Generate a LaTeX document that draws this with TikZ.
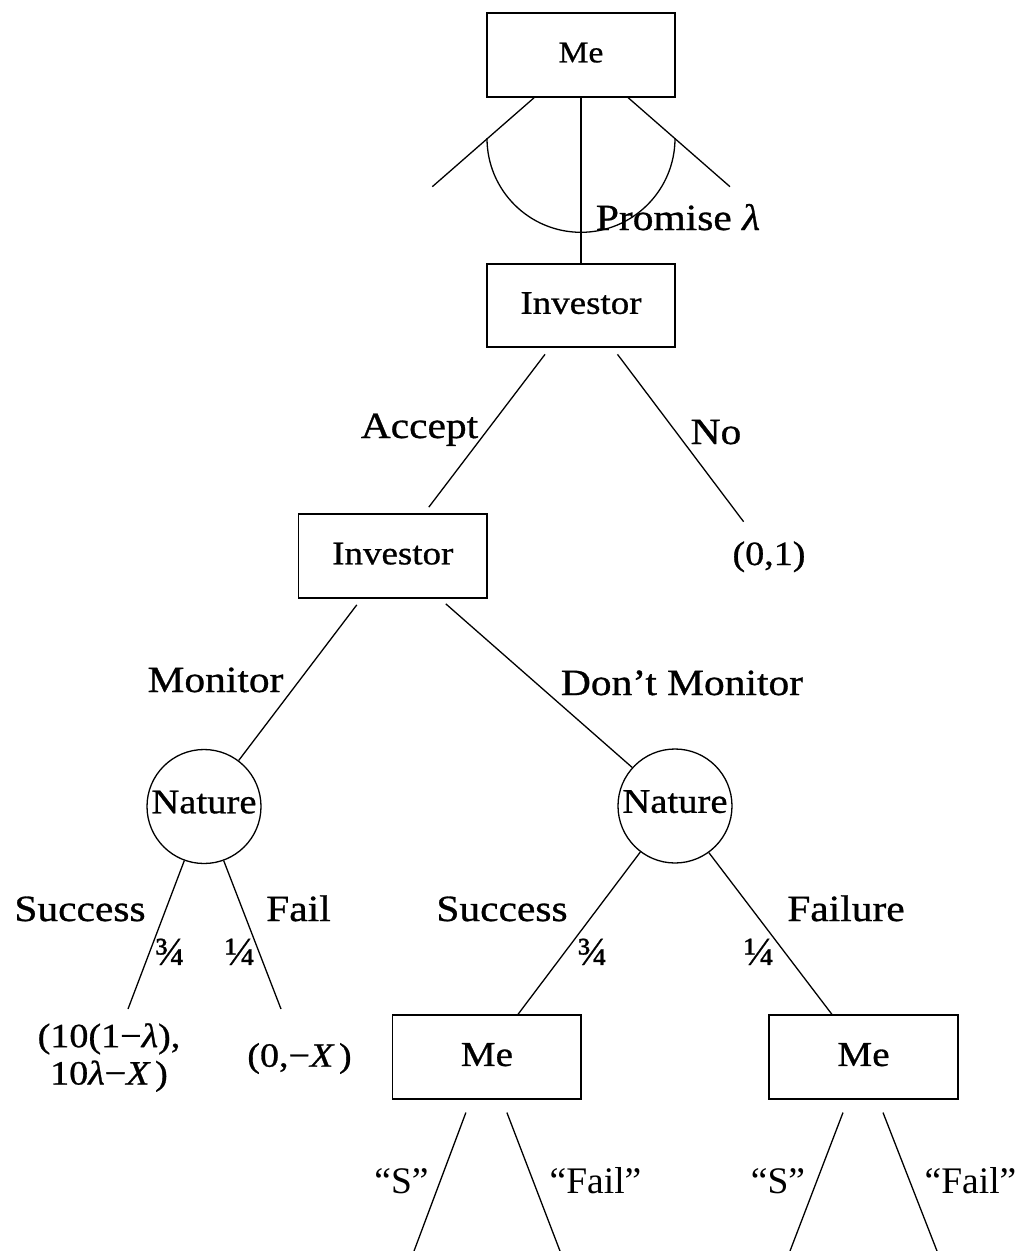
\documentclass[tikz,border=0pt]{standalone}
\usepackage{fontspec}
\setmainfont[FakeStretch=1.12,FakeBold=0.8]{Liberation Serif}
\newfontfamily\plainserif{Liberation Serif}
\newfontfamily\fracserif[FakeBold=0.6]{Liberation Serif}
\begin{document}
\begin{tikzpicture}[x=1pt,y=-1pt,
  box/.style={draw, line width=1.6pt, minimum width=188.5pt, minimum height=83.5pt, inner sep=0pt, text depth=5pt},
  chance/.style={draw, circle, line width=1.3pt, minimum size=114pt, inner sep=0pt, text depth=9pt, font=\fontsize{34.5}{36}\selectfont},
  edge/.style={line width=1.3pt},
  lbl/.style={anchor=base, inner sep=0pt, font=\fontsize{37}{40}\selectfont},
  qlbl/.style={anchor=base, inner sep=0pt, font=\plainserif\fontsize{37.5}{40}\selectfont},
  prob/.style={anchor=base, inner sep=0pt, font=\fracserif\fontsize{40}{42}\selectfont},
  pay/.style={inner sep=0pt, font=\fontsize{34}{37.3}\selectfont},
]
\useasboundingbox (0,0) rectangle (1022,1251);

% decision and chance nodes
\node[box, font=\fontsize{30}{32}\selectfont] (me1) at (581,55) {Me};
\node[box, font=\fontsize{33}{36}\selectfont] (inv1) at (581,305.5) {Investor};
\node[box, font=\fontsize{33}{36}\selectfont] (inv2) at (392.8,556) {Investor};
\node[chance] (nat1) at (204,806.5) {Nature};
\node[chance] (nat2) at (675,806) {Nature};
\node[box, font=\fontsize{35}{38}\selectfont] (me2) at (486.9,1057) {Me};
\node[box, font=\fontsize{35}{38}\selectfont] (me3) at (863.5,1057) {Me};

% free ends
\coordinate (t1) at (432.3,186.7);
\coordinate (t2) at (730,186.7);
\coordinate (t3) at (743.6,521.7);
\coordinate (t4) at (128,1009);
\coordinate (t5) at (281,1009);
\coordinate (t6) at (414,1251);
\coordinate (t7) at (560,1251);
\coordinate (t8) at (790,1251);
\coordinate (t9) at (937,1251);

% top: continuum of promises
\draw[edge] ([xshift=-46.7pt]me1.south) -- (t1);
\draw[edge] ([xshift=47pt]me1.south) -- (t2);
\draw[edge] (me1.south) -- (inv1.north);
\begin{scope}
  \clip (480,138.3) rectangle (690,245);
  \draw[edge] (581,138.3) circle[radius=94pt];
\end{scope}
\node[lbl] (lpromise) at (678,230) {Promise {\itshape λ}};

% investor accepts or not
\draw[edge] ([xshift=-36pt,yshift=-6.3pt]inv1.south) -- ([xshift=36pt,yshift=6.3pt]inv2.north);
\draw[edge] ([xshift=36.5pt,yshift=-6.3pt]inv1.south) -- (t3);
\node[lbl] (laccept) at (419.5,438) {Accept};
\node[lbl] (lno) at (716,444) {No};
\node[pay, anchor=base] (p01) at (769,565) {(0,1)};

% monitor or not
\draw[edge] ([xshift=-36pt,yshift=-6.3pt]inv2.south) -- (nat1.53);
\draw[edge] ([xshift=53pt,yshift=-5.3pt]inv2.south) -- (nat2.138);
\node[lbl] (lmonitor) at (215.5,692) {Monitor};
\node[lbl] (ldont) at (682,695) {Don’t Monitor};

% nature, monitored branch
\draw[edge] (nat1.250) -- (t4);
\draw[edge] (nat1.290.7) -- (t5);
\node[lbl] (lsucc1) at (80,921) {Success};
\node[lbl] (lfail1) at (298.5,921) {Fail};
\node[prob] (pr1) at (170,965) {¾};
\node[prob] (pr2) at (240,965) {¼};
\node[pay, align=center] (p1) at (109,1057.5) {(10(1−{\itshape λ}),\\10{\itshape λ}−{\itshape X\,})};
\node[pay, anchor=base] (p2) at (299.5,1066.7) {(0,−{\itshape X\,})};

% nature, unmonitored branch
\draw[edge] (nat2.233) -- ([xshift=31pt]me2.north);
\draw[edge] (nat2.306.8) -- ([xshift=-31.5pt]me3.north);
\node[lbl] (lsucc2) at (502,921) {Success};
\node[lbl] (lfail2) at (846,921) {Failure};
\node[prob] (pr3) at (592.5,965) {¾};
\node[prob] (pr4) at (759,965) {¼};

% my reports
\draw[edge] ([xshift=-21pt,yshift=-13pt]me2.south) -- (t6);
\draw[edge] ([xshift=20pt,yshift=-13pt]me2.south) -- (t7);
\draw[edge] ([xshift=-20.5pt,yshift=-13pt]me3.south) -- (t8);
\draw[edge] ([xshift=19.5pt,yshift=-13pt]me3.south) -- (t9);
\node[qlbl] (ls1) at (401.5,1193) {“S”};
\node[qlbl] (lf1) at (595.5,1193) {“Fail”};
\node[qlbl] (ls2) at (778,1193) {“S”};
\node[qlbl] (lf2) at (970.5,1193) {“Fail”};
\end{tikzpicture}
\end{document}
